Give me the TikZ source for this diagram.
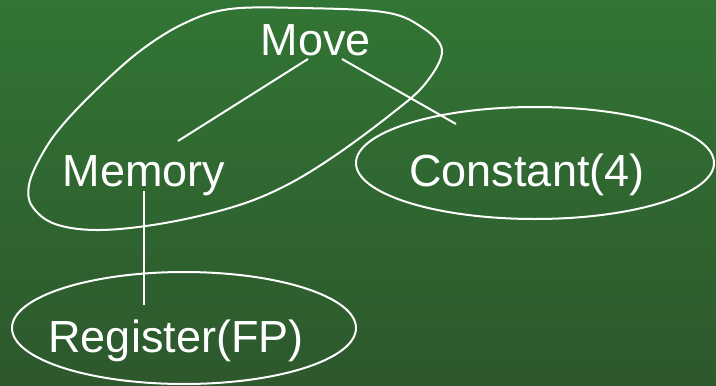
\documentclass[tikz,border=0pt]{standalone}
\usepackage{fontspec}
\setmainfont{Liberation Sans}
\definecolor{bgtop}{RGB}{50,117,52}
\definecolor{bgbot}{RGB}{45,88,45}
\begin{document}
\begin{tikzpicture}[x=1pt,y=-1pt,
  lbl/.style={text=white,inner sep=0pt,anchor=base,font=\fontsize{45}{54}\selectfont},
  wline/.style={draw=white,line width=2pt}]
\useasboundingbox (0,0) rectangle (716,386);
\shade[top color=bgtop,bottom color=bgbot] (0,0) rectangle (716,386);
% text nodes
\node[lbl] (move) at (316,55) {Move};
\node[lbl] (memory) at (144,186) {Memory};
\node[lbl] (const) at (527,186) {Constant(4)};
\node[lbl] (reg) at (176,352) {Register(FP)};
% group outline
\draw[wline] plot[smooth cycle,tension=0.6] coordinates {
 (442,50) (425,84) (390,115) (333,157) (283,187) (233,207)
 (165,223) (100,230) (55,224) (32,206) (29,185) (40,158)
 (60,128) (95,91) (140,51) (185,23) (230,9) (300,8)
 (383,12) (420,26)};
% ellipses
\draw[wline] (535,163) ellipse [x radius=179, y radius=56];
\draw[wline] (184,328) ellipse [x radius=172, y radius=56];
% connector ends
\coordinate (mvA) at (308,59);
\coordinate (mmA) at (178,141);
\coordinate (mvB) at (342,59);
\coordinate (csB) at (456,124);
\coordinate (mmC) at (144,191);
\coordinate (rgC) at (144,305);
\draw[wline] (mvA) -- (mmA);
\draw[wline] (mvB) -- (csB);
\draw[wline] (mmC) -- (rgC);
\end{tikzpicture}
\end{document}
